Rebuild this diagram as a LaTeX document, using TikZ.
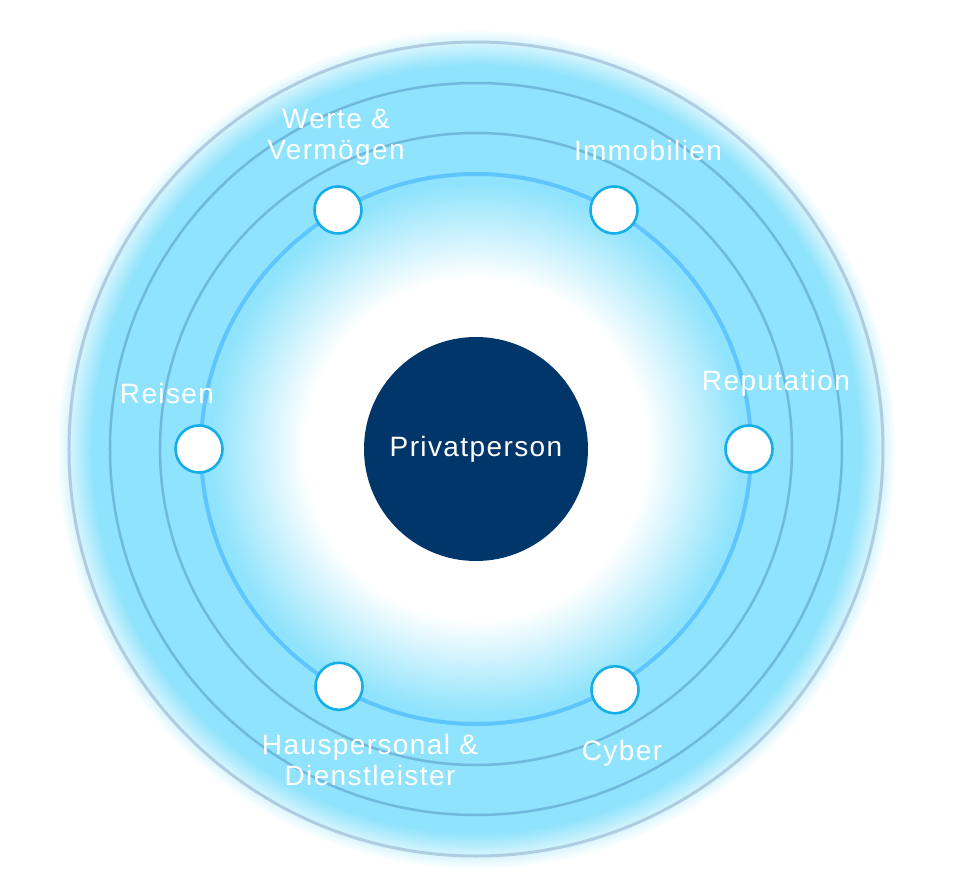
\documentclass[tikz,border=0pt]{standalone}
\usepackage{fontspec}
\setmainfont[LetterSpace=5]{Liberation Sans}
\usetikzlibrary{positioning}
\definecolor{glowcyan}{HTML}{8FE3FC}
\definecolor{navy}{HTML}{00366A}
\definecolor{ringpale}{HTML}{AFCDE1}
\definecolor{ringmid}{HTML}{6FBADC}
\definecolor{ringbright}{HTML}{5EC5FF}
\definecolor{dotedge}{HTML}{16AEE6}
% white core, cyan band, white again outside
\pgfdeclareradialshading{halo}{\pgfpoint{0bp}{0bp}}{%
  color(0bp)=(white); color(6.1bp)=(white); color(9.5bp)=(glowcyan);
  color(13.7bp)=(glowcyan); color(15.0bp)=(white); color(50bp)=(white)}
\tikzset{
    x=0.5pt, y=0.5pt, % one unit is one pixel of the reference
    ring/.style={draw=ringmid, line width=1.25pt}, % the thin rings
    topic/.style={circle, draw=dotedge, line width=1.3pt, fill=white, minimum size=23.5pt, inner sep=0pt}, % the small white circles
    label text/.style={text=white, font=\fontsize{14}{15.5}\selectfont, align=center, inner sep=0pt},
}
\begin{document}
\begin{tikzpicture}
  \useasboundingbox (-476,-436) rectangle (484,449);
  \clip (-476,-436) rectangle (484,449);
  % glow
  \fill[shading=halo] (0,0) circle (700);

  % rings
  \draw[draw=ringpale, line width=1.5pt] (0,0) circle (407);
  \draw[ring] (0,0) circle (366);
  \draw[ring] (0,0) circle (316);
  \draw[draw=ringbright, line width=2pt] (0,0) circle (275);

  \node[circle, fill=navy, minimum size=112pt, inner sep=0pt,
      text=white, font=\fontsize{14}{16}\selectfont] (person) at (0,0) {Privatperson};

  \node[topic] (werte)  at (120:276) {};
  \node[topic] (immo)   at (60:276)  {};
  \node[topic] (reisen) at (180:277) {};
  \node[topic] (reput)  at (0:273)   {};
  \node[topic] (haus)   at (-120:274) {};
  \node[topic] (cyber)  at (-60:278) {};

  \node[label text] (werte_l)  at (-140,312) {Werte \&\\Vermögen};
  \node[label text] (immo_l)   at (172,299)  {Immobilien};
  \node[label text] (reisen_l) at (-309,56)  {Reisen};
  \node[label text] (reput_l)  at (300,66)   {Reputation};
  \node[label text] (haus_l)   at (-106,-311) {Hauspersonal \&\\Dienstleister};
  \node[label text] (cyber_l)  at (146,-304) {Cyber};
\end{tikzpicture}
\end{document}
